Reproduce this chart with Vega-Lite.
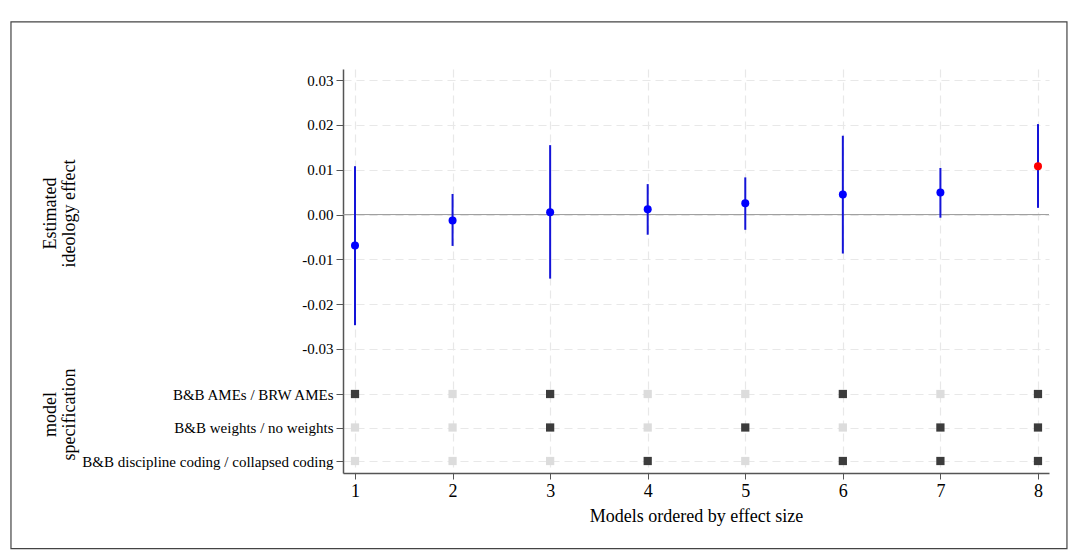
{
  "$schema": "https://vega.github.io/schema/vega-lite/v6.json",
  "description": "Estimated ideology effect by model specification",
  "width": 706,
  "height": 404,
  "autosize": "none",
  "padding": {"left": 343, "top": 69, "right": 27, "bottom": 79},
  "background": "white",
  "config": {
    "font": "Liberation Serif",
    "view": {"stroke": null},
    "axis": {
      "labelColor": "black",
      "titleColor": "black",
      "titleFontWeight": "normal",
      "domainColor": "#555555",
      "domainWidth": 1.5,
      "tickColor": "#555555",
      "tickSize": 7,
      "gridColor": "#e8e8e8",
      "gridDash": [8, 5],
      "gridWidth": 1.2,
      "labelLimit": 400
    }
  },
  "layer": [
    {
      "data": {"values": [{}]},
      "mark": {"type": "rect", "fill": null, "stroke": "#444444", "strokeWidth": 1.2},
      "encoding": {
        "x": {"datum": -2.526, "type": "quantitative", "scale": {"domain": [0.877, 8.113], "nice": false, "zero": false}, "axis": null},
        "x2": {"datum": 8.297},
        "y": {"datum": 0.043, "type": "quantitative", "scale": {"domain": [-0.0577, 0.0325], "nice": false, "zero": false}, "axis": null},
        "y2": {"datum": -0.0746}
      }
    },
    {
      "data": {"values": [{}]},
      "mark": {"type": "rule", "color": "#9a9a9a", "strokeWidth": 1},
      "encoding": {
        "y": {"datum": 0, "type": "quantitative", "scale": {"domain": [-0.0577, 0.0325], "nice": false, "zero": false}, "axis": null}
      }
    },
    {
      "data": {"name": "models"},
      "mark": {"type": "rule", "color": "#1414d8", "strokeWidth": 2},
      "encoding": {
        "x": {"field": "model", "type": "quantitative", "scale": {"domain": [0.877, 8.113], "nice": false, "zero": false}, "axis": null},
        "y": {"field": "lo", "type": "quantitative", "scale": {"domain": [-0.0577, 0.0325], "nice": false, "zero": false}, "axis": null},
        "y2": {"field": "hi"}
      }
    },
    {
      "data": {"name": "models"},
      "mark": {"type": "point", "filled": true, "opacity": 1, "size": 64, "shape": "circle"},
      "encoding": {
        "x": {
          "field": "model",
          "type": "quantitative",
          "scale": {"domain": [0.877, 8.113], "nice": false, "zero": false},
          "axis": {
            "values": [1, 2, 3, 4, 5, 6, 7, 8],
            "format": "d",
            "title": "Models ordered by effect size",
            "tickSize": 6,
            "labelFontSize": 18,
            "labelPadding": 3,
            "titleFontSize": 18,
            "titlePadding": 7,
            "grid": true
          }
        },
        "y": {
          "field": "est",
          "type": "quantitative",
          "scale": {"domain": [-0.0577, 0.0325], "nice": false, "zero": false},
          "axis": {
            "orient": "left",
            "values": [0.03, 0.02, 0.01, 0, -0.01, -0.02, -0.03],
            "labelExpr": "replace(format(datum.value, '.2f'), '\u2212', '-')",
            "labelFontSize": 15,
            "labelPadding": 3,
            "grid": true,
            "title": ["Estimated", "ideology effect"],
            "titleFontSize": 18,
            "titleLineHeight": 19,
            "titleAngle": -90,
            "titleAlign": "center",
            "titleBaseline": "middle",
            "titleX": -293,
            "titleY": 144
          }
        },
        "color": {
          "field": "best",
          "type": "nominal",
          "scale": {"domain": ["no", "yes"], "range": ["#0000ff", "#ff0000"]},
          "legend": null
        }
      }
    },
    {
      "data": {"name": "specs"},
      "mark": {"type": "point", "shape": "square", "filled": true, "opacity": 1, "size": 68},
      "encoding": {
        "x": {"field": "model", "type": "quantitative", "scale": {"domain": [0.877, 8.113], "nice": false, "zero": false}, "axis": null},
        "y": {
          "field": "spec",
          "type": "ordinal",
          "scale": {
            "type": "point",
            "padding": 0,
            "domain": ["B&B AMEs / BRW AMEs", "B&B weights / no weights", "B&B discipline coding / collapsed coding"],
            "range": [325, 392]
          },
          "axis": {
            "orient": "left",
            "domain": false,
            "labelFontSize": 15,
            "labelPadding": 3,
            "grid": true,
            "title": ["model", "specification"],
            "titleFontSize": 18,
            "titleLineHeight": 19,
            "titleAngle": -90,
            "titleAlign": "center",
            "titleBaseline": "middle",
            "titleX": -293,
            "titleY": 345
          }
        },
        "color": {
          "field": "on",
          "type": "nominal",
          "scale": {"domain": ["no", "yes"], "range": ["#dcdcdc", "#3c3c3c"]},
          "legend": null
        }
      }
    }
  ],
  "resolve": {
    "scale": {"x": "independent", "y": "independent", "color": "independent"},
    "axis": {"x": "independent", "y": "independent"}
  },
  "datasets": {
    "models": [
      {"model": 1, "est": -0.0069, "lo": -0.0247, "hi": 0.0108, "best": "no"},
      {"model": 2, "est": -0.0013, "lo": -0.0070, "hi": 0.0046, "best": "no"},
      {"model": 3, "est": 0.0005, "lo": -0.0143, "hi": 0.0155, "best": "no"},
      {"model": 4, "est": 0.0012, "lo": -0.0045, "hi": 0.0068, "best": "no"},
      {"model": 5, "est": 0.0025, "lo": -0.0034, "hi": 0.0083, "best": "no"},
      {"model": 6, "est": 0.0045, "lo": -0.0087, "hi": 0.0176, "best": "no"},
      {"model": 7, "est": 0.0049, "lo": -0.0007, "hi": 0.0104, "best": "no"},
      {"model": 8, "est": 0.0108, "lo": 0.0015, "hi": 0.0202, "best": "yes"}
    ],
    "specs": [
      {"model": 1, "spec": "B&B AMEs / BRW AMEs", "on": "yes"},
      {"model": 2, "spec": "B&B AMEs / BRW AMEs", "on": "no"},
      {"model": 3, "spec": "B&B AMEs / BRW AMEs", "on": "yes"},
      {"model": 4, "spec": "B&B AMEs / BRW AMEs", "on": "no"},
      {"model": 5, "spec": "B&B AMEs / BRW AMEs", "on": "no"},
      {"model": 6, "spec": "B&B AMEs / BRW AMEs", "on": "yes"},
      {"model": 7, "spec": "B&B AMEs / BRW AMEs", "on": "no"},
      {"model": 8, "spec": "B&B AMEs / BRW AMEs", "on": "yes"},
      {"model": 1, "spec": "B&B weights / no weights", "on": "no"},
      {"model": 2, "spec": "B&B weights / no weights", "on": "no"},
      {"model": 3, "spec": "B&B weights / no weights", "on": "yes"},
      {"model": 4, "spec": "B&B weights / no weights", "on": "no"},
      {"model": 5, "spec": "B&B weights / no weights", "on": "yes"},
      {"model": 6, "spec": "B&B weights / no weights", "on": "no"},
      {"model": 7, "spec": "B&B weights / no weights", "on": "yes"},
      {"model": 8, "spec": "B&B weights / no weights", "on": "yes"},
      {"model": 1, "spec": "B&B discipline coding / collapsed coding", "on": "no"},
      {"model": 2, "spec": "B&B discipline coding / collapsed coding", "on": "no"},
      {"model": 3, "spec": "B&B discipline coding / collapsed coding", "on": "no"},
      {"model": 4, "spec": "B&B discipline coding / collapsed coding", "on": "yes"},
      {"model": 5, "spec": "B&B discipline coding / collapsed coding", "on": "no"},
      {"model": 6, "spec": "B&B discipline coding / collapsed coding", "on": "yes"},
      {"model": 7, "spec": "B&B discipline coding / collapsed coding", "on": "yes"},
      {"model": 8, "spec": "B&B discipline coding / collapsed coding", "on": "yes"}
    ]
  }
}
